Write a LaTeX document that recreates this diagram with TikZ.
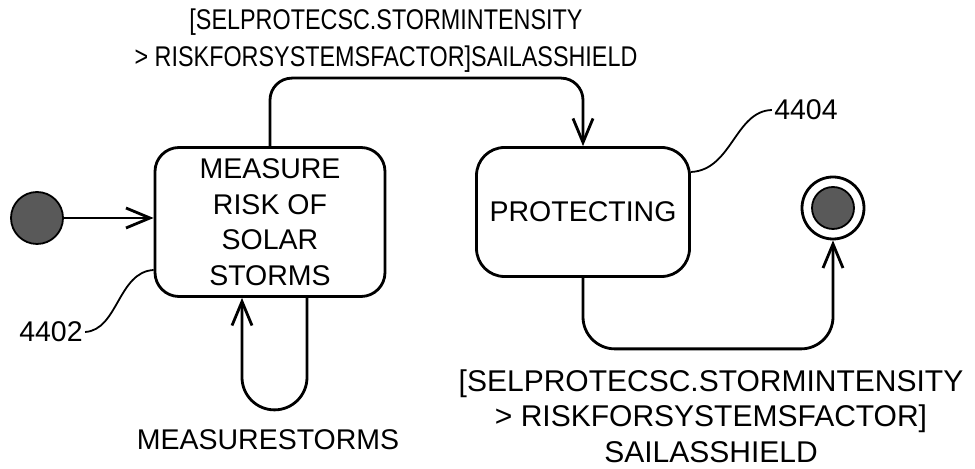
\documentclass[tikz,border=0pt]{standalone}
\usepackage{fontspec}
\setmainfont{Liberation Sans}
\usepackage{graphicx}
\usetikzlibrary{arrows.meta}
\begin{document}
\begin{tikzpicture}[x=0.5pt,y=-0.5pt,
  state/.style={draw, line width=1.4pt, rounded corners=12pt, align=center, font=\fontsize{14.25}{17.8}\selectfont},
  flow/.style={line width=1.4pt, -{Straight Barb[length=12pt,width=10pt]}},
  leader/.style={line width=0.9pt},
  dot/.style={circle, fill=black!65, draw, line width=0.9pt, inner sep=0pt},
  lbl/.style={align=center, font=\fontsize{14.25}{18.5}\selectfont}]
\useasboundingbox (0,0) rectangle (975,469);
\node[dot, minimum size=26pt] (init) at (37,218) {};
\node[state, minimum width=115pt, minimum height=74.5pt] (measure) at (270,222) {MEASURE\\RISK OF\\SOLAR\\STORMS};
\node[state, minimum width=106.5pt, minimum height=64.5pt, rounded corners=14pt] (protecting) at (583,212) {PROTECTING};
\node[circle, draw, line width=1.4pt, minimum size=31pt, inner sep=0pt] (final) at (833,208) {};
\node[dot, minimum size=21pt] (finaldot) at (final) {};
\draw[flow] (init) -- (init -| measure.west);
\draw[flow, rounded corners=11pt] (measure.north) -- ++(0,-68) -| (protecting.north);
\draw[flow, rounded corners=16pt] (protecting.south) -- ++(0,71) -| (final.south);
\draw[flow, rounded corners=16.25pt] ([xshift=18.5pt]measure.south) -- ++(0,112) -| ([xshift=-14pt]measure.south);
\node[lbl] (toplabel) at (386,41) {\scalebox{0.82}[1]{[SELPROTECSC.STORMINTENSITY}\\\scalebox{0.82}[1]{> RISKFORSYSTEMSFACTOR]SAILASSHIELD}};
\node[lbl, inner sep=0pt, font=\fontsize{15}{17.8}\selectfont] (botlabel) at (711,416) {[SELPROTECSC.STORMINTENSITY\\> RISKFORSYSTEMSFACTOR]\\SAILASSHIELD};
\node[lbl] (looplabel) at (268,440) {MEASURESTORMS};
\node[lbl, inner sep=1pt] (n4402) at (51,332) {4402};
\node[lbl, inner sep=1pt] (n4404) at (806,110) {4404};
\draw[leader] (n4402.east) .. controls (118,330) and (118,272) .. ([yshift=-24pt]measure.west);
\draw[leader] ([yshift=20pt]protecting.east) .. controls (732,170) and (735,111) .. (n4404.west);
\end{tikzpicture}
\end{document}
